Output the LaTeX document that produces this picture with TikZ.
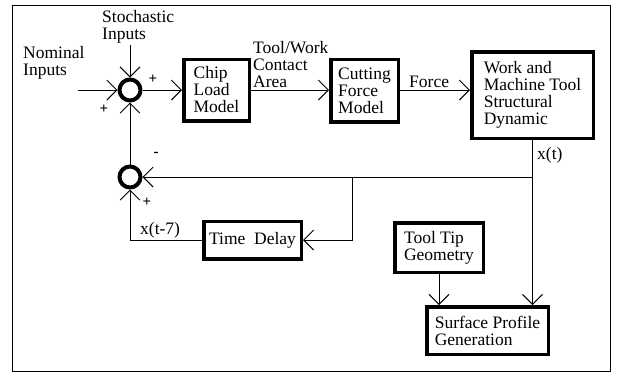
\documentclass[tikz,border=0pt]{standalone}
\usepackage{fontspec}
\setmainfont{Liberation Serif}
\usetikzlibrary{arrows.meta}

\tikzset{
  blk/.style={draw, line width=3.5pt, align=left, inner sep=2pt},
  sumpt/.style={draw, circle, line width=4pt, minimum size=21pt, inner sep=0pt},
  sig/.style={line width=0.9pt, -{Straight Barb[length=10pt,width=20pt,line width=0.9pt]}},
  lbl/.style={align=left, inner sep=0pt},
  sgn/.style={font=\bfseries\fontsize{15}{15}\selectfont, inner sep=0pt},
}

\begin{document}
\begin{tikzpicture}[x=1pt, y=-1pt, font=\fontsize{17.5}{17}\selectfont]
    \useasboundingbox (0,0) rectangle (619,376);
    % outer frame
    \draw[line width=0.8pt] (12,5) rectangle (610,371);

    % summing points
    \node[sumpt] (s1) at (130,90) {};
    \node[sumpt] (s2) at (130,177) {};

    % blocks
    \node[blk, minimum width=65.5pt, minimum height=61.5pt] (chip) at (216.5,90) {Chip\\Load\\Model};
    \node[blk, minimum width=67.5pt, minimum height=62.5pt] (cut) at (364.5,90.5) {Cutting\\Force\\Model};
    \node[blk, minimum width=121.5pt, minimum height=86.5pt] (wk) at (532.5,95) {Work and\\Machine Tool\\Structural\\Dynamic};
    \node[blk, minimum width=97.5pt, minimum height=37.5pt] (td) at (252.5,240) {Time\ \ Delay};
    \node[blk, minimum width=88.5pt, minimum height=49.5pt] (tt) at (439,247.5) {Tool Tip\\Geometry};
    \node[blk, minimum width=121.5pt, minimum height=47.5pt] (sp) at (487.5,330.5) {Surface Profile\\Generation};

    % inputs
    \coordinate (nom) at (78,90);
    \coordinate (sto) at (130,45);
    \node[lbl, anchor=west] (nomlbl) at (23,63) {Nominal\\Inputs};
    \node[lbl, anchor=west] (stolbl) at (102,27) {Stochastic\\Inputs};

    % signs
    \node[sgn] (p1) at (153,79) {+};
    \node[sgn] (p2) at (104,109) {+};
    \node[sgn] (m1) at (156,154) {-};
    \node[sgn] (p3) at (147,202) {+};

    % forward path
    \draw[sig] (nom) -- (s1);
    \draw[sig] (sto) -- (s1);
    \draw[sig] (s1) -- (s1 -| chip.west);
    \draw[sig] (chip.east) -- (chip.east -| cut.west);
    \draw[sig] (cut.east |- chip) -- (chip -| wk.west);
    \node[lbl, anchor=west] (twlbl) at (253,65) {Tool/Work\\Contact\\Area};
    \node[lbl, anchor=west] (flbl) at (409,82) {Force};

    % feedback paths
    \coordinate (br1) at (wk.south |- s2);
    \coordinate (br2) at (352,177);
    \draw[sig] (s2) -- (s1);
    \draw[sig] (br1) -- (s2);
    \draw[sig] (br2) |- (td);
    \draw[sig] (td) -| (s2);
    \node[lbl, anchor=west] (xdlbl) at (140,230) {x(t-7)};

    % output to surface profile
    \draw[sig] (wk.south) -- (wk.south |- sp.north);
    \draw[sig] (tt.south) -- (tt.south |- sp.north);
    \node[lbl, anchor=west] (xlbl) at (537,155) {x(t)};
\end{tikzpicture}
\end{document}
